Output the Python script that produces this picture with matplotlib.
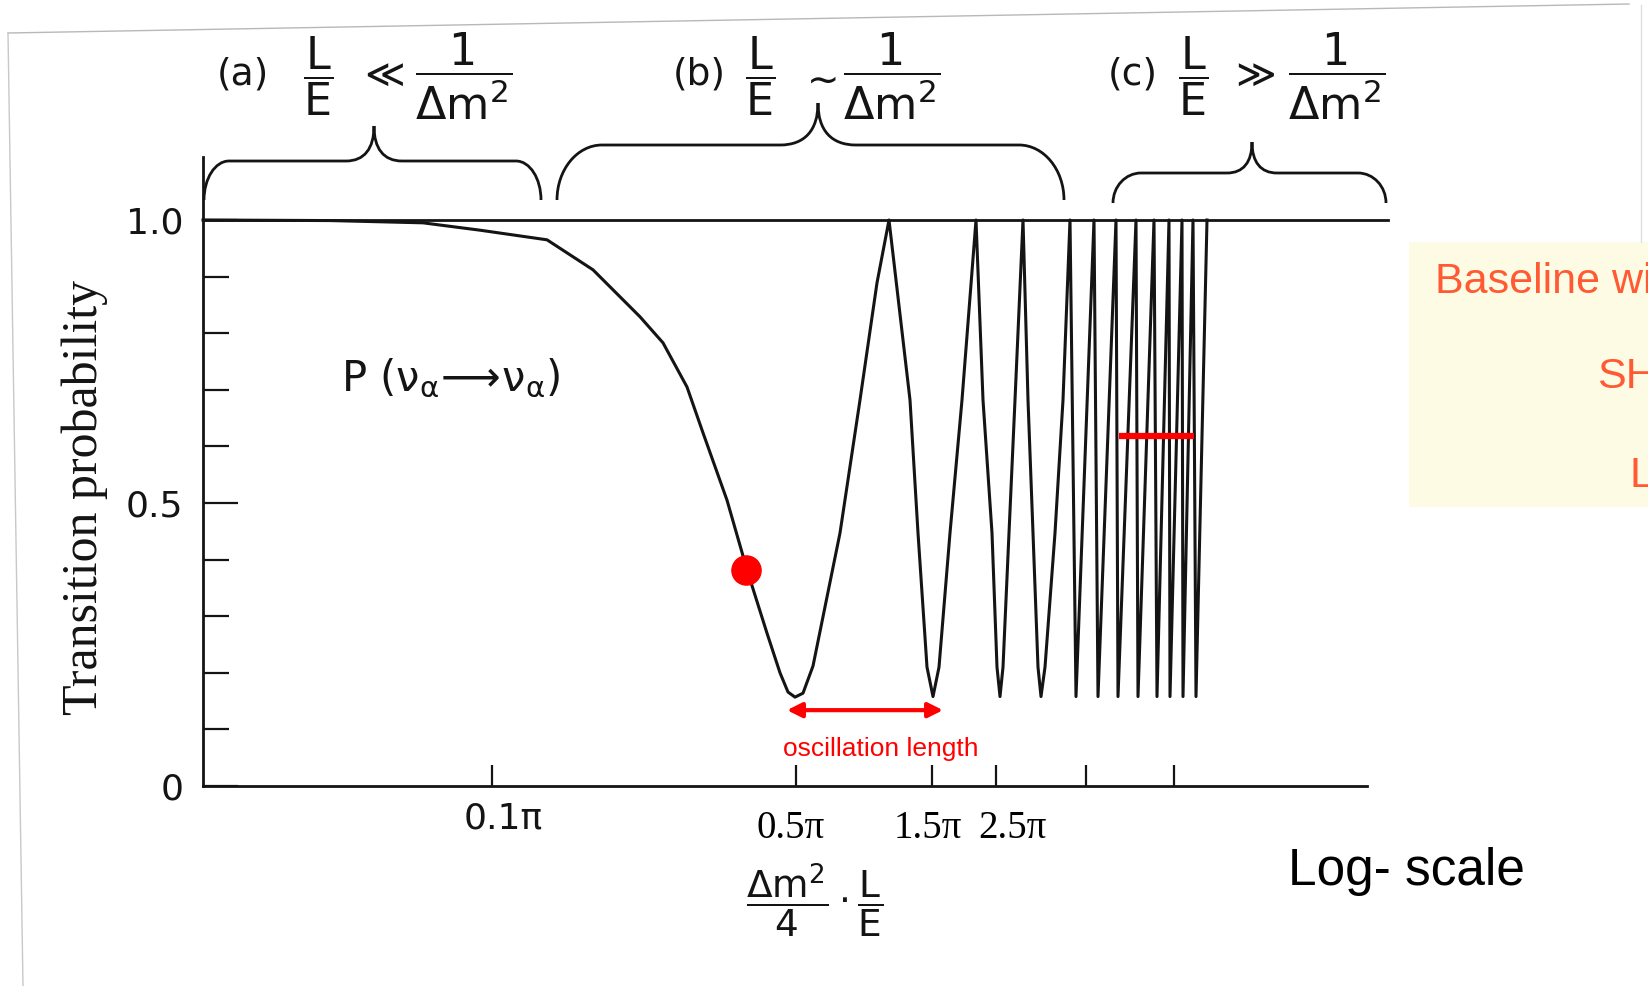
import matplotlib
matplotlib.use("Agg")
import matplotlib.pyplot as plt
from matplotlib.path import Path
from matplotlib.patches import PathPatch, Rectangle

plt.rcParams['mathtext.fontset'] = 'dejavusans'
plt.rcParams['font.family'] = ['DejaVu Sans']

# ---------------- data (schematic horizontal position, survival probability) -------------
curve_x = [0, 127, 220, 277, 344, 390, 437, 460, 484, 500, 524, 544, 564, 577, 585, 592, 600, 610, 637, 657, 674, 686,
           707, 715, 724, 730, 736, 747, 759, 773,
           780, 789, 794, 797, 800, 806, 812, 820,
           825, 830, 835, 838, 842, 852, 860, 867,
           873, 891, 895, 913, 915, 933, 935, 951, 954, 966, 967, 979, 980, 990, 993, 1004]
curve_p = [1.0, 0.999, 0.995, 0.982, 0.965, 0.912, 0.829, 0.783, 0.705, 0.624, 0.505, 0.382, 0.270, 0.200, 0.166, 0.157, 0.164, 0.212, 0.447, 0.682, 0.889, 1.0,
           0.682, 0.447, 0.21, 0.158, 0.21, 0.447, 0.682, 1.0,
           0.682, 0.447, 0.21, 0.158, 0.21, 0.447, 0.682, 1.0,
           0.682, 0.447, 0.21, 0.158, 0.21, 0.447, 0.682, 1.0,
           0.158, 1.0, 0.158, 1.0, 0.158, 1.0, 0.158, 1.0, 0.158, 1.0, 0.158, 1.0, 0.158, 1.0, 0.158, 1.0]

ytick_major = [0.0, 0.5, 1.0]
ytick_major_labels = ["0", "0.5", "1.0"]
ytick_minor = [0.1, 0.2, 0.3, 0.4, 0.6, 0.7, 0.8, 0.9]

xtick_pos = [289, 593, 729, 793, 883, 971]
xtick_labels = ["0.1π", "0.5π", "1.5π", "2.5π", "", ""]
xtick_label_at = [300, 588, 725, 809, 883, 971]

red_dot = (543, 0.382)
osc_arrow = (584, 740, 0.134)
red_bar = (916, 991, 0.618)

W, H = 1649, 986
INK = '#141414'
fig = plt.figure(figsize=(W / 100, H / 100), dpi=100)
fig.patch.set_facecolor('white')

# ---------------- main axes ----------------
ax = fig.add_axes([203 / W, (H - 786) / H, 1185 / W, 566 / H])
ax.set_xlim(0, 1185)
ax.set_ylim(0, 1)
ax.patch.set_alpha(0)
for s in ['top', 'right']:
    ax.spines[s].set_visible(False)
ax.spines['left'].set_bounds(0, 1.111)
ax.spines['bottom'].set_bounds(0, 1164)
for s in ['left', 'bottom']:
    ax.spines[s].set_linewidth(2.0)
    ax.spines[s].set_color(INK)

ax.set_yticks(ytick_major, ytick_major_labels)
ax.set_yticks(ytick_minor, minor=True)
ax.tick_params(axis='y', which='major', direction='in', length=25, width=1.6,
               pad=14, labelsize=26, color=INK, labelcolor=INK)
ax.tick_params(axis='y', which='minor', direction='in', length=19, width=1.6, color=INK)
ax.set_xticks(xtick_pos, [""] * len(xtick_pos))
ax.tick_params(axis='x', which='major', direction='in', length=15, width=1.6, color=INK)
ax.tick_params(axis='x', which='minor', bottom=False)

# P = 1 reference line and the curve
ax.plot([0, 1185], [1.0, 1.0], color=INK, lw=2.0, clip_on=False)
ax.plot(curve_x, curve_p, color=INK, lw=2.2, solid_joinstyle='round', clip_on=False)

# x tick labels
xt = ax.get_xaxis_transform()
for pos, lab in zip(xtick_label_at, xtick_labels):
    if not lab:
        continue
    if lab == "0.1π":
        ax.text(pos, -0.057, lab, transform=xt, ha='center', va='center',
                fontsize=26, color=INK)
    else:
        ax.text(pos, -0.075, lab, transform=xt, ha='center', va='center',
                fontsize=28, family='Liberation Serif', color='black')

# annotations in red
ax.plot([red_dot[0]], [red_dot[1]], 'o', color='#FF0000', ms=21, zorder=5)
ax.annotate('', xy=(osc_arrow[0], osc_arrow[2]), xytext=(osc_arrow[1], osc_arrow[2]),
            arrowprops=dict(arrowstyle='<|-|>', color='#FF0000', lw=3,
                            mutation_scale=22, shrinkA=0, shrinkB=0))
ax.text((osc_arrow[0] + osc_arrow[1]) / 2 + 16, 0.065, 'oscillation length', color='#FF0000',
        fontsize=19, family='Liberation Sans', ha='center', va='center')
ax.plot([red_bar[0], red_bar[1]], [red_bar[2], red_bar[2]], color='#FF0000', lw=4.5,
        solid_capstyle='butt', zorder=5)

ax.text(248, 0.72,
        r'P $(\mathrm{\nu}_{\mathrm{\alpha}}\!\longrightarrow\!\mathrm{\nu}_{\mathrm{\alpha}})$',
        fontsize=30, ha='center', va='center', color=INK)

# ---------------- overlay in pixel coordinates ----------------
ov = fig.add_axes([0, 0, 1, 1], zorder=3)
ov.set_xlim(0, W)
ov.set_ylim(H, 0)
ov.set_axis_off()

# scanned page edges
ov.plot([8, 1629], [33, 4], color='#b8b8b8', lw=1.0)
ov.plot([8, 23], [33, 986], color='#c8c8c8', lw=1.0)
ov.plot([1641, 1641], [5, 242], color='#e0e0e0', lw=1.0)


def brace(x0, x1, xt_, y_end, y_h, y_tip, re, rt):
    k = 0.552
    verts = [(x0, y_end),
             (x0, y_h + (y_end - y_h) * (1 - k)), (x0 + re * (1 - k), y_h), (x0 + re, y_h),
             (xt_ - rt, y_h),
             (xt_ - rt * 0.35, y_h), (xt_, y_h - (y_h - y_tip) * 0.35), (xt_, y_tip),
             (xt_, y_h - (y_h - y_tip) * 0.35), (xt_ + rt * 0.35, y_h), (xt_ + rt, y_h),
             (x1 - re, y_h),
             (x1 - re * (1 - k), y_h), (x1, y_h + (y_end - y_h) * (1 - k)), (x1, y_end)]
    codes = [Path.MOVETO, Path.CURVE4, Path.CURVE4, Path.CURVE4, Path.LINETO,
             Path.CURVE4, Path.CURVE4, Path.CURVE4, Path.CURVE4, Path.CURVE4, Path.CURVE4,
             Path.LINETO, Path.CURVE4, Path.CURVE4, Path.CURVE4]
    ov.add_patch(PathPatch(Path(verts, codes), fill=False, ec=INK, lw=2.0))


brace(204, 541, 374, 200, 161, 126, 25, 28)
brace(557, 1064, 818, 200, 145, 103, 45, 38)
brace(1113, 1386, 1252, 203, 173, 142, 28, 25)

# region labels: (tag, tag x, L/E x, relation, relation x, 1/dm2 x)
FRAC_LE = r'$\dfrac{\mathrm{L}}{\mathrm{E}}$'
FRAC_DM = r'$\dfrac{1}{\Delta\mathrm{m}^{2}}$'
regions = [
    ('(a)', 243, 318, r'$\ll$', 381, 464),
    ('(b)', 699, 760, r'$\sim$', 818, 892),
    ('(c)', 1133, 1193, r'$\gg$', 1252, 1337),
]
for tag, xtag, xle, rel, xrel, xdm in regions:
    ov.text(xtag, 74, tag, fontsize=27, ha='center', va='center', color=INK)
    ov.text(xle, 76, FRAC_LE, fontsize=32, ha='center', va='center', color=INK)
    ov.text(xrel, 76 if rel != r'$\sim$' else 80, rel, fontsize=28, ha='center',
            va='center', color=INK)
    ov.text(xdm, 76, FRAC_DM, fontsize=32, ha='center', va='center', color=INK)

# y label
ov.text(85, 497, 'Transition probability', rotation=90, fontsize=36,
        family='Liberation Serif', ha='center', va='center', color=INK)

# x label
ov.text(815, 900, r'$\dfrac{\Delta\mathrm{m}^{2}}{4}\cdot\dfrac{\mathrm{L}}{\mathrm{E}}$',
        fontsize=27, ha='center', va='center', color=INK)

# yellow note box (cut by the right edge)
ov.add_patch(Rectangle((1409, 242), 260, 265, facecolor='#FEFBE4', edgecolor='none'))
ORANGE = '#FF5A33'
ov.text(1435, 293, 'Baseline wi', fontsize=31, family='Liberation Sans', color=ORANGE,
        ha='left', va='baseline')
ov.text(1597, 388, 'SH', fontsize=31, family='Liberation Sans', color=ORANGE,
        ha='left', va='baseline')
ov.text(1630, 487, 'L', fontsize=31, family='Liberation Sans', color=ORANGE,
        ha='left', va='baseline')

ov.text(1288, 871, 'Log- scale', fontsize=37, family='Liberation Sans', color='black',
        ha='left', va='center')

fig.savefig('out.png', dpi=100)
